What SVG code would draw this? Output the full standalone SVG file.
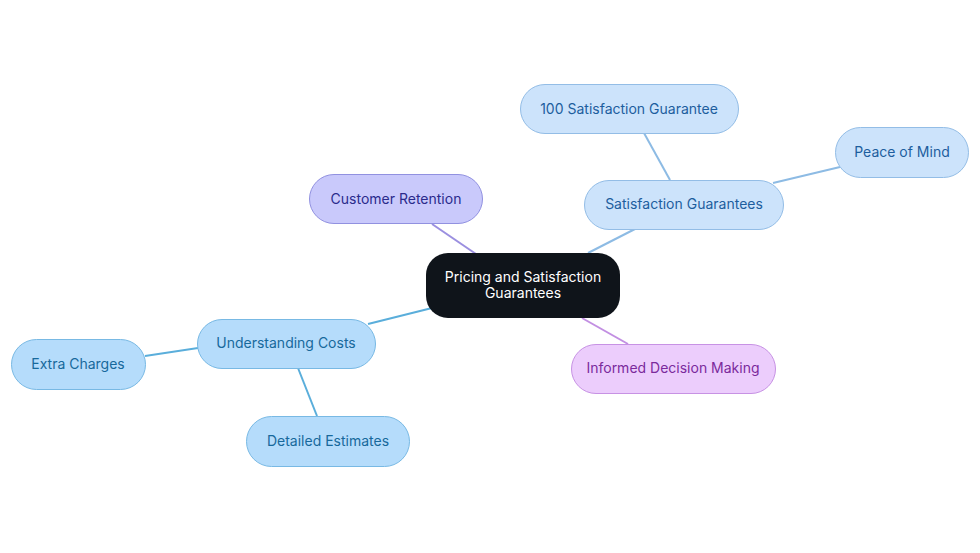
<svg xmlns="http://www.w3.org/2000/svg" width="980" height="553" viewBox="0 0 980 553">
<style>
text{font-family:Inter,"Noto Sans",sans-serif;font-size:14px;text-anchor:middle;dominant-baseline:central}
.blue rect{fill:#cce3fb;stroke:#93bde6;stroke-width:1}
.blue text{fill:#1d5e9e}
.cyan rect{fill:#b5dcfb;stroke:#78b9e4;stroke-width:1}
.cyan text{fill:#17699c}
.edge{fill:none;stroke-width:2}
</style>
<rect width="980" height="553" fill="#ffffff"/>
<g id="connectors">
<line class="edge" x1="476" y1="254" x2="432" y2="224" stroke="#9b8fe0"/>
<line class="edge" x1="588" y1="253" x2="635" y2="229" stroke="#8dbbe4"/>
<line class="edge" x1="582" y1="318" x2="628" y2="344" stroke="#c28fe2"/>
<line class="edge" x1="432" y1="308" x2="368" y2="324" stroke="#5aaedb"/>
<line class="edge" x1="670" y1="180" x2="644" y2="133" stroke="#8dbbe4"/>
<line class="edge" x1="773" y1="183" x2="840" y2="167" stroke="#8dbbe4"/>
<line class="edge" x1="198" y1="348" x2="145" y2="356" stroke="#5aaedb"/>
<line class="edge" x1="298" y1="368" x2="317" y2="416" stroke="#5aaedb"/>
</g>
<g id="center">
<rect x="426" y="253" width="194" height="65" rx="22" fill="#0f141a"/>
<text x="523" y="276" fill="#ffffff">Pricing and Satisfaction</text>
<text x="523" y="292" fill="#ffffff">Guarantees</text>
</g>
<g id="customer-retention">
<rect x="309.5" y="174.5" width="173" height="49" rx="24.5" fill="#c9c9fb" stroke="#9191e0"/>
<text x="396" y="198" fill="#2b2b8c">Customer Retention</text>
</g>
<g id="satisfaction-guarantees" class="blue">
<rect x="584.5" y="180.5" width="199" height="49" rx="24.5"/>
<text x="684" y="203">Satisfaction Guarantees</text>
</g>
<g id="satisfaction-100" class="blue">
<rect x="520.5" y="84.5" width="218" height="49" rx="24.5"/>
<text x="629" y="108">100 Satisfaction Guarantee</text>
</g>
<g id="peace-of-mind" class="blue">
<rect x="835.5" y="127.5" width="133" height="50" rx="25"/>
<text x="902" y="151">Peace of Mind</text>
</g>
<g id="informed-decision">
<rect x="571.5" y="344.5" width="204" height="49" rx="24.5" fill="#eccdfc" stroke="#c792e4"/>
<text x="673" y="367" fill="#7b2a9c">Informed Decision Making</text>
</g>
<g id="understanding-costs" class="cyan">
<rect x="197.5" y="319.5" width="178" height="49" rx="24.5"/>
<text x="286" y="342">Understanding Costs</text>
</g>
<g id="extra-charges" class="cyan">
<rect x="11.5" y="339.5" width="134" height="50" rx="25"/>
<text x="78" y="363">Extra Charges</text>
</g>
<g id="detailed-estimates" class="cyan">
<rect x="246.5" y="416.5" width="163" height="50" rx="25"/>
<text x="328" y="440">Detailed Estimates</text>
</g>
</svg>
